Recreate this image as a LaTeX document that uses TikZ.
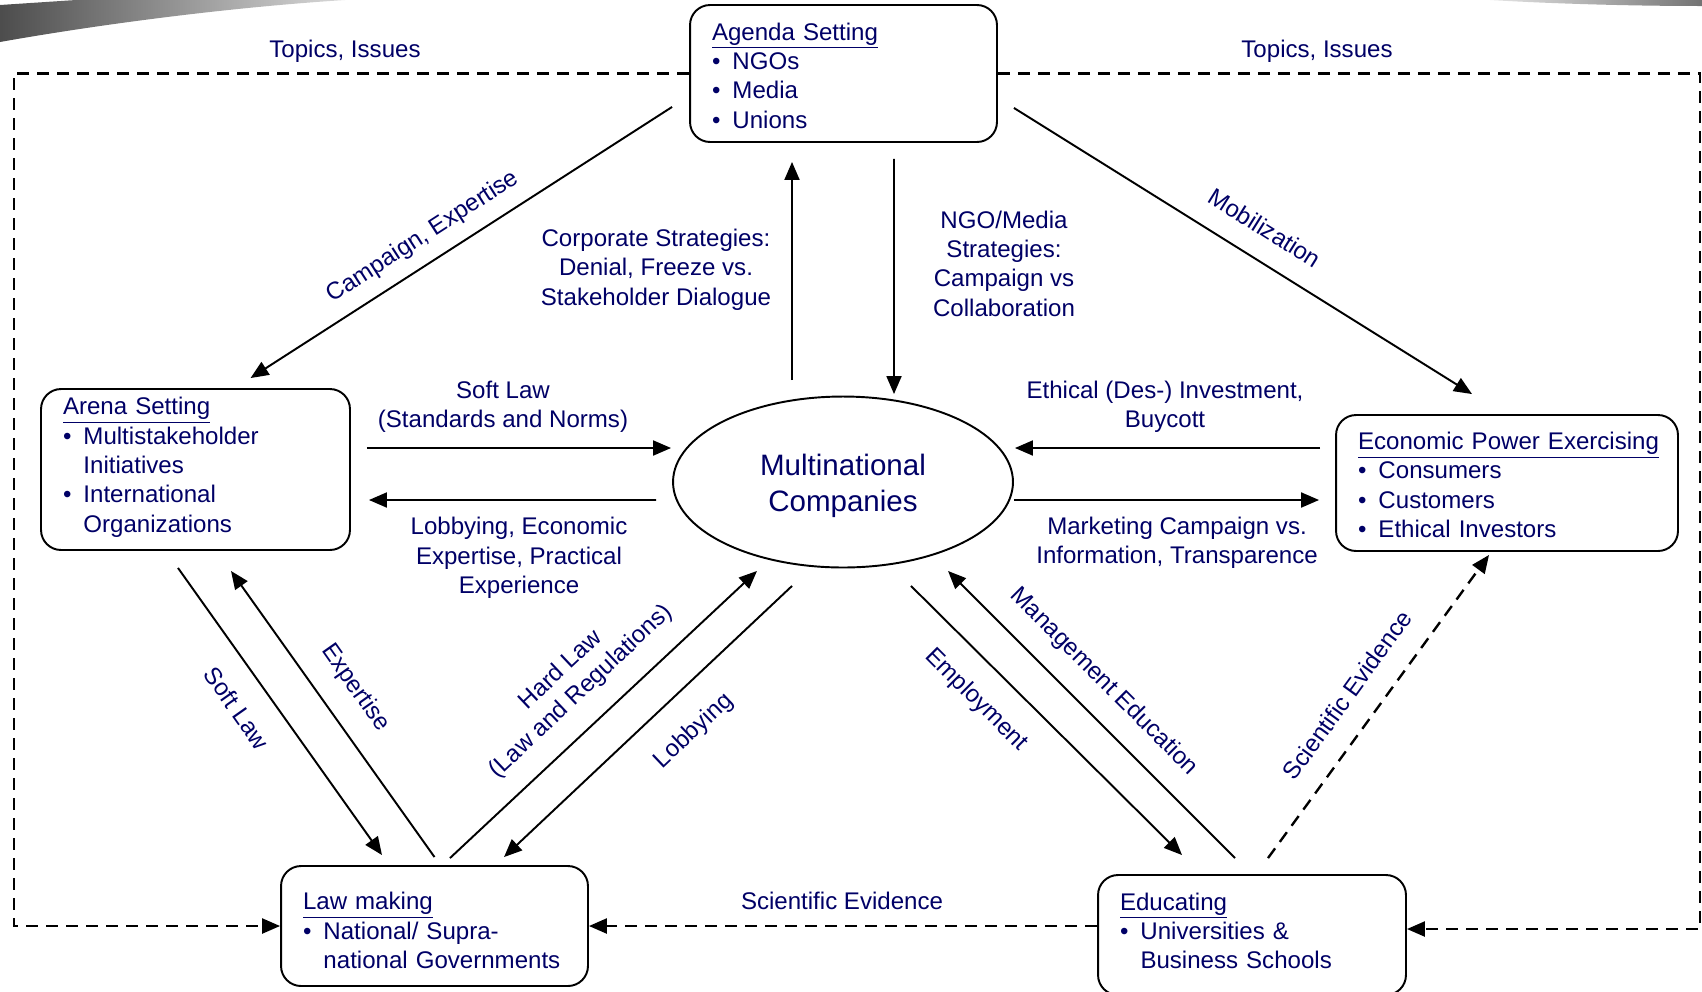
\documentclass[tikz,border=0pt]{standalone}
\usepackage{fontspec}
\setmainfont{Liberation Sans}
\usetikzlibrary{arrows.meta,shapes.geometric}
\definecolor{txtblue}{RGB}{0,0,102}
\newcommand{\bul}{\makebox[0.85em][l]{\textbullet}}
\newcommand{\ind}{\hspace*{0.85em}}
\newcommand{\topstrut}[1]{\rule{0pt}{#1}}
\newcommand{\botstrut}[1]{\rule[-#1]{0pt}{0pt}}
\tikzset{
actor/.style={draw, line width=1.1pt, rounded corners=0.4cm, text=txtblue,
  align=left, inner xsep=0.44cm, inner ysep=0pt,
  font=\fontsize{13.7}{16.7}\selectfont},
lbl/.style={text=txtblue, align=center, inner sep=0pt,
  font=\fontsize{13.7}{16.7}\selectfont},
arr/.style={line width=1.1pt, -{Triangle[length=0.36cm,width=0.3cm]}},
darr/.style={arr, line width=1.35pt, dash pattern=on 0.24cm off 0.16cm}
}
\begin{document}
\begin{tikzpicture}[x=0.02cm, y=-0.02cm]
\useasboundingbox (0,0) rectangle (1702,991);
\shade[left color=black!70, right color=black!15] (0,5) -- (76,0) -- (345,0) .. controls (220,8) and (90,26) .. (0,42) -- cycle;
\shade[left color=black!10, right color=black!55] (1490,0) -- (1702,0) -- (1702,6) .. controls (1620,6) and (1540,3) .. (1490,0) -- cycle;

\node[actor, text width=5.26cm, minimum height=2.74cm] (agenda) at (843.5,73.5)
  {\topstrut{0.89em}\underline{Agenda Setting}\\ \bul NGOs\\ \bul Media\\ \bul Unions};
\node[actor, text width=5.3cm, minimum height=3.22cm] (arena) at (195.5,469.5)
  {\underline{Arena Setting}\\ \bul Multistakeholder\\ \ind Initiatives\\ \bul International\\ \ind Organizations\botstrut{0.19cm}};
\node[actor, text width=5.96cm, minimum height=2.72cm] (econ) at (1507,483)
  {\topstrut{0.89em}\underline{Economic Power Exercising}\\ \bul Consumers\\ \bul Customers\\ \bul Ethical Investors};
\node[actor, text width=5.26cm, minimum height=2.4cm] (law) at (434.5,926)
  {\topstrut{1.09em}\underline{Law making}\\ \bul National/ Supra-\\ \ind national Governments};
\node[actor, text width=5.28cm, minimum height=2.4cm] (educ) at (1252,935)
  {\underline{Educating}\\ \bul Universities \&\\ \ind Business Schools\botstrut{0.17cm}};
\node[ellipse, draw, line width=1.1pt, minimum width=6.8cm, minimum height=3.42cm, inner sep=0pt,
  text=txtblue, align=center, font=\fontsize{16.8}{20.3}\selectfont] (mnc) at (843,482)
  {\topstrut{0.99em}Multinational\\Companies};

\node[lbl] (topicsl) at (345,51.5) {Topics, Issues};
\node[lbl] (topicsr) at (1317,51.5) {Topics, Issues};
\node[lbl, rotate=32.8] (campaign) at (423,237) {Campaign, Expertise};
\node[lbl, rotate=-32.1] (mobil) at (1265,228) {Mobilization};
\node[lbl] (corp) at (656,269.5) {Corporate Strategies:\\Denial, Freeze vs.\\Stakeholder Dialogue};
\node[lbl] (ngo) at (1004,263.5) {NGO/Media\\Strategies:\\Campaign vs\\Collaboration};
\node[lbl] (softlaw) at (503,407) {Soft Law\\(Standards and Norms)};
\node[lbl] (lobbyecon) at (519,558) {Lobbying, Economic\\Expertise, Practical\\Experience};
\node[lbl] (ethical) at (1165,407) {Ethical (Des-) Investment,\\Buycott};
\node[lbl] (marketing) at (1177,543) {Marketing Campaign vs.\\Information, Transparence};
\node[lbl, rotate=-54.8] (softlawb) at (237,708) {Soft Law};
\node[lbl, rotate=-54.8] (expert) at (355,688) {Expertise};
\node[lbl, rotate=43.3] (hardlaw) at (571,681) {Hard Law\\(Law and Regulations)};
\node[lbl, rotate=43.5] (lobbyb) at (694,731) {Lobbying};
\node[lbl, rotate=-45] (employ) at (976,700) {Employment};
\node[lbl, rotate=-45] (mgmt) at (1104,682) {Management Education};
\node[lbl, rotate=54.1] (scievd) at (1347,695) {Scientific Evidence};
\node[lbl] (scievb) at (842,901) {Scientific Evidence};

\draw[arr] ([shift={(-17,-36)}]agenda.south west) -- ([shift={(55,-10)}]arena.north);
\draw[arr] ([shift={(16,-35)}]agenda.south east) -- ([shift={(-35,-20)}]econ.north);
\draw[arr] ([shift={(-51,-15.5)}]mnc.north) -- ([shift={(-51.5,19)}]agenda.south);
\draw[arr] ([shift={(50.5,16)}]agenda.south) -- ([shift={(51,-1.5)}]mnc.north);
\draw[arr] ([shift={(16,-21.5)}]arena.east) -- ([shift={(-1,-34)}]mnc.west);
\draw[arr] ([shift={(-16,18)}]mnc.west) -- ([shift={(18,30.5)}]arena.east);
\draw[arr] ([shift={(-15,-35)}]econ.west) -- ([shift={(1,-34)}]mnc.east);
\draw[arr] ([shift={(0,18)}]mnc.east) -- ([shift={(-16,17)}]econ.west);
\draw[arr] ([shift={(-17.5,17)}]arena.south) -- ([shift={(-52.5,-10)}]law.north);
\draw[arr] ([shift={(0,-8)}]law.north) -- ([shift={(35.5,20)}]arena.south);
\draw[arr] ([shift={(15.5,-7)}]law.north) -- ([shift={(-86,2.5)}]mnc.south);
\draw[arr] ([shift={(-51,17.5)}]mnc.south) -- ([shift={(69.5,-8)}]law.north);
\draw[arr] ([shift={(68,17.5)}]mnc.south) -- ([shift={(-70,-19)}]educ.north);
\draw[arr] ([shift={(-17,-16)}]educ.north) -- ([shift={(105,2.5)}]mnc.south);
\draw[darr] ([shift={(16,-16)}]educ.north) -- ([shift={(-18,3)}]econ.south);
\draw[darr] (educ.west |- law.east) -- (law.east);
\draw[darr] (agenda.west) -- ++(-675,0) |- (law.west);
\draw[darr] (agenda.east) -- ++(702,0) |- ([shift={(0,-6)}]educ.east);
\end{tikzpicture}
\end{document}
